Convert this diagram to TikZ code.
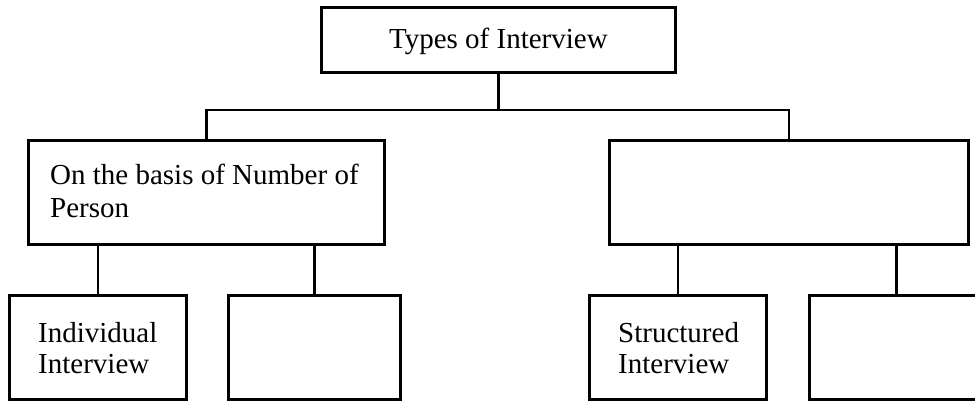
\documentclass[tikz,border=0pt]{standalone}
\usepackage{fontspec}
\setmainfont{Liberation Serif}
\newcommand\twoline[2]{\begin{tabular}[t]{@{}l@{}}#1\\#2\end{tabular}}
\begin{document}
\begin{tikzpicture}[x=1pt,y=-1pt,
  box/.style={draw, line width=2.8pt, inner sep=0pt, anchor=north west},
  lbl/.style={anchor=base west, inner sep=0pt},
  bigfont/.style={font=\fontsize{29pt}{33pt}\selectfont},
  smallfont/.style={font=\fontsize{29pt}{31pt}\selectfont},
  link/.style={line width=2.3pt}]
\useasboundingbox[fill=white] (0,0) rectangle (975,400);
% boxes
\node[box, bigfont, minimum width=354pt, minimum height=65pt,
      text height=23.2pt, text depth=6.3pt] (top) at (320,6) {Types of Interview};
\node[box, minimum width=356pt, minimum height=104pt] (left) at (27,139) {};
\node[box, minimum width=359pt, minimum height=104pt] (right) at (608,139) {};
\node[box, minimum width=177pt, minimum height=104pt] (b1) at (8,294) {};
\node[box, minimum width=172pt, minimum height=104pt] (b2) at (227,294) {};
\node[box, minimum width=177pt, minimum height=104pt] (b3) at (588,294) {};
\node[box, minimum width=174pt, minimum height=104pt] (b4) at (808,294) {};
% texts
\node[lbl, bigfont] (ltext) at (50,184) {\twoline{On the basis of Number of}{Person}};
\node[lbl, smallfont] (b1text) at (38,342) {\twoline{Individual}{Interview}};
\node[lbl, smallfont] (b3text) at (618,342) {\twoline{Structured}{Interview}};
% connectors
\coordinate (busL) at (205,110);
\draw[link] (top.south) -- (top.south |- busL);
\draw[link] (left.north) -- (left.north |- busL) -| (right.north);
\draw[link] (left.south -| b1.north) -- (b1.north);
\draw[link] (left.south -| b2.north) -- (b2.north);
\draw[link] (right.south -| b3.north) -- (b3.north);
\draw[link] (right.south -| b4.north) -- (b4.north);
\end{tikzpicture}
\end{document}
